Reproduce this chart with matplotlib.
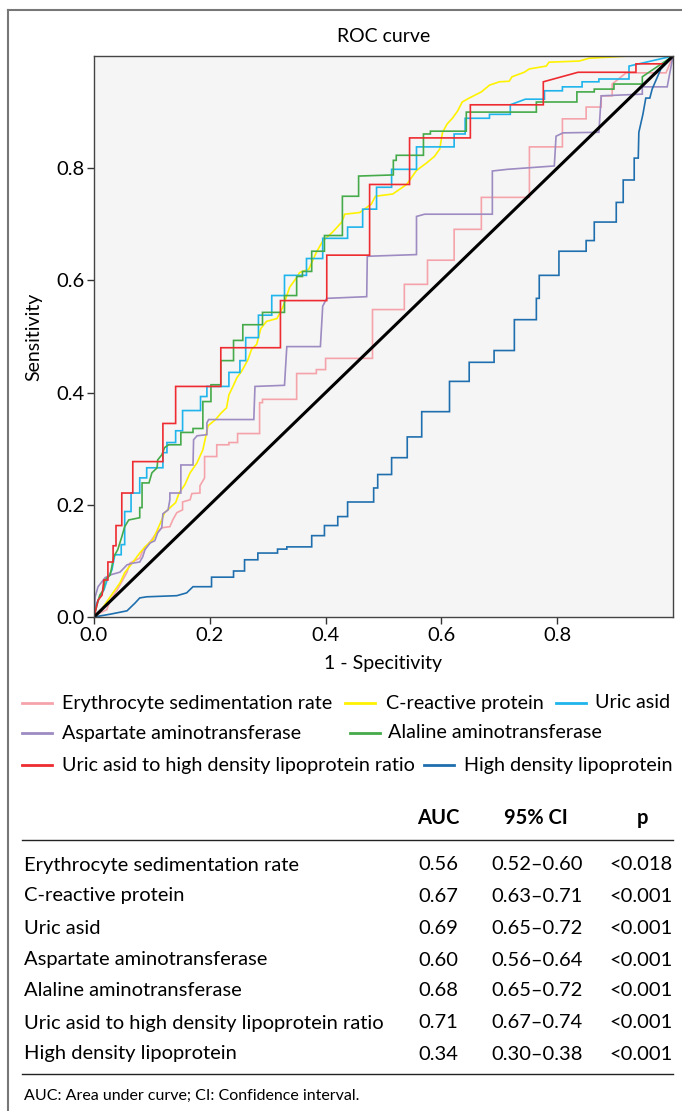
import matplotlib
matplotlib.use('Agg')
import matplotlib.pyplot as plt
from matplotlib.lines import Line2D

plt.rcParams['font.family'] = ['Lato', 'DejaVu Sans']

W, H = 682, 1111

# ROC curve points (1 - specificity, sensitivity)
esr_fpr = [0, 0.010, 0.022, 0.028, 0.040, 0.057, 0.062, 0.079, 0.084, 0.093, 0.100, 0.109, 0.117, 0.131, 0.136, 0.143,
           0.153, 0.153, 0.166, 0.169, 0.183, 0.183, 0.191, 0.191, 0.212, 0.212, 0.233, 0.233, 0.248, 0.248, 0.286,
           0.286, 0.291, 0.291, 0.350, 0.350, 0.384, 0.384, 0.400, 0.400, 0.481, 0.481, 0.536, 0.536, 0.576, 0.576,
           0.622, 0.622, 0.669, 0.669, 0.752, 0.752, 0.809, 0.809, 0.850, 0.850, 0.876, 0.876, 0.895, 0.895, 0.919,
           0.988, 1.0]
esr_tpr = [0, 0.007, 0.013, 0.030, 0.048, 0.080, 0.096, 0.105, 0.118, 0.129, 0.138, 0.152, 0.159, 0.161, 0.173, 0.186,
           0.191, 0.205, 0.209, 0.220, 0.221, 0.234, 0.248, 0.286, 0.286, 0.307, 0.307, 0.311, 0.311, 0.327, 0.327,
           0.382, 0.382, 0.388, 0.388, 0.434, 0.434, 0.441, 0.441, 0.461, 0.461, 0.548, 0.548, 0.593, 0.593, 0.636,
           0.636, 0.691, 0.691, 0.748, 0.748, 0.838, 0.838, 0.888, 0.888, 0.909, 0.909, 0.929, 0.929, 0.950, 0.970,
           0.970, 1.0]

crp_fpr = [0, 0.010, 0.028, 0.045, 0.053, 0.066, 0.079, 0.088, 0.102, 0.117, 0.122, 0.141, 0.147, 0.157, 0.166, 0.178,
           0.188, 0.197, 0.210, 0.219, 0.229, 0.233, 0.240, 0.247, 0.255, 0.266, 0.272, 0.281, 0.288, 0.298, 0.316,
           0.326, 0.338, 0.350, 0.355, 0.371, 0.384, 0.395, 0.412, 0.428, 0.433, 0.459, 0.479, 0.486, 0.516, 0.540,
           0.557, 0.574, 0.588, 0.597, 0.602, 0.610, 0.619, 0.628, 0.636, 0.648, 0.669, 0.683, 0.700, 0.717, 0.722,
           0.743, 0.752, 0.781, 0.786, 0.838, 0.855, 0.924, 1.0]
crp_tpr = [0, 0.009, 0.036, 0.061, 0.079, 0.096, 0.114, 0.125, 0.138, 0.173, 0.186, 0.204, 0.221, 0.236, 0.257, 0.275,
           0.298, 0.341, 0.352, 0.363, 0.373, 0.396, 0.411, 0.427, 0.438, 0.459, 0.477, 0.486, 0.514, 0.527, 0.532,
           0.552, 0.588, 0.605, 0.614, 0.620, 0.650, 0.670, 0.686, 0.704, 0.718, 0.721, 0.736, 0.750, 0.754, 0.771,
           0.796, 0.809, 0.821, 0.834, 0.864, 0.879, 0.889, 0.902, 0.918, 0.925, 0.936, 0.948, 0.954, 0.955, 0.963,
           0.971, 0.977, 0.982, 0.989, 0.991, 0.996, 1.0, 1.0]

ua_fpr = [0, 0.003, 0.010, 0.017, 0.024, 0.031, 0.036, 0.047, 0.047, 0.053, 0.053, 0.064, 0.064, 0.079, 0.079, 0.091,
          0.091, 0.119, 0.119, 0.126, 0.126, 0.141, 0.141, 0.153, 0.153, 0.184, 0.184, 0.195, 0.195, 0.233, 0.233,
          0.252, 0.252, 0.262, 0.262, 0.284, 0.284, 0.307, 0.307, 0.329, 0.329, 0.367, 0.367, 0.395, 0.395, 0.438,
          0.438, 0.464, 0.464, 0.488, 0.488, 0.514, 0.514, 0.557, 0.557, 0.622, 0.622, 0.641, 0.641, 0.683, 0.683,
          0.719, 0.719, 0.745, 0.778, 0.778, 0.809, 0.809, 0.843, 0.843, 0.872, 0.872, 0.924, 0.924, 1.0]
ua_tpr = [0, 0.021, 0.036, 0.048, 0.070, 0.084, 0.111, 0.111, 0.129, 0.129, 0.188, 0.188, 0.221, 0.221, 0.248, 0.248,
          0.266, 0.266, 0.293, 0.293, 0.311, 0.311, 0.332, 0.332, 0.368, 0.368, 0.393, 0.393, 0.411, 0.411, 0.436,
          0.436, 0.457, 0.457, 0.498, 0.498, 0.538, 0.538, 0.573, 0.573, 0.609, 0.609, 0.639, 0.639, 0.675, 0.675,
          0.695, 0.695, 0.727, 0.727, 0.766, 0.766, 0.798, 0.798, 0.838, 0.838, 0.861, 0.861, 0.889, 0.889, 0.896,
          0.896, 0.913, 0.923, 0.923, 0.938, 0.938, 0.945, 0.945, 0.954, 0.954, 0.959, 0.959, 0.982, 1.0]

ast_fpr = [0, 0.002, 0.007, 0.019, 0.028, 0.045, 0.057, 0.067, 0.079, 0.084, 0.088, 0.097, 0.105, 0.110, 0.117, 0.119,
           0.128, 0.131, 0.131, 0.150, 0.150, 0.171, 0.172, 0.178, 0.195, 0.195, 0.198, 0.276, 0.278, 0.329, 0.333,
           0.391, 0.395, 0.402, 0.471, 0.472, 0.557, 0.557, 0.571, 0.688, 0.688, 0.714, 0.795, 0.798, 0.810, 0.872,
           0.876, 0.947, 0.947, 0.990, 1.0]
ast_tpr = [0, 0.036, 0.054, 0.070, 0.075, 0.080, 0.093, 0.096, 0.098, 0.107, 0.120, 0.132, 0.136, 0.150, 0.159, 0.184,
           0.191, 0.209, 0.221, 0.221, 0.271, 0.271, 0.316, 0.323, 0.325, 0.346, 0.352, 0.352, 0.411, 0.413, 0.482,
           0.482, 0.554, 0.568, 0.571, 0.643, 0.646, 0.714, 0.718, 0.718, 0.795, 0.798, 0.804, 0.857, 0.863, 0.864,
           0.929, 0.932, 0.945, 0.945, 1.0]

alt_fpr = [0, 0.005, 0.010, 0.016, 0.019, 0.028, 0.034, 0.041, 0.048, 0.053, 0.060, 0.079, 0.079, 0.083, 0.083, 0.095,
           0.100, 0.109, 0.110, 0.117, 0.122, 0.129, 0.150, 0.150, 0.171, 0.171, 0.188, 0.188, 0.202, 0.202, 0.219,
           0.219, 0.241, 0.241, 0.257, 0.257, 0.291, 0.291, 0.329, 0.329, 0.350, 0.350, 0.360, 0.360, 0.376, 0.376,
           0.398, 0.398, 0.429, 0.429, 0.457, 0.457, 0.517, 0.517, 0.522, 0.522, 0.569, 0.569, 0.581, 0.581, 0.643,
           0.643, 0.764, 0.764, 0.834, 0.834, 0.864, 0.864, 0.898, 0.898, 0.947, 0.947, 1.0]
alt_tpr = [0, 0.021, 0.039, 0.048, 0.066, 0.075, 0.107, 0.120, 0.143, 0.161, 0.173, 0.177, 0.195, 0.195, 0.239, 0.239,
           0.257, 0.266, 0.280, 0.289, 0.302, 0.307, 0.307, 0.329, 0.329, 0.336, 0.336, 0.384, 0.384, 0.414, 0.414,
           0.457, 0.457, 0.493, 0.493, 0.521, 0.521, 0.543, 0.543, 0.573, 0.573, 0.607, 0.607, 0.616, 0.616, 0.652,
           0.652, 0.680, 0.680, 0.750, 0.750, 0.786, 0.788, 0.814, 0.814, 0.823, 0.823, 0.861, 0.861, 0.866, 0.866,
           0.900, 0.900, 0.918, 0.918, 0.936, 0.936, 0.941, 0.941, 0.950, 0.950, 0.963, 1.0]

ratio_fpr = [0, 0.007, 0.014, 0.017, 0.024, 0.024, 0.033, 0.033, 0.038, 0.038, 0.048, 0.048, 0.067, 0.067, 0.119,
             0.119, 0.141, 0.141, 0.219, 0.219, 0.322, 0.322, 0.402, 0.402, 0.476, 0.476, 0.545, 0.545, 0.650, 0.650,
             0.776, 0.776, 0.836, 0.936, 0.936, 0.986, 1.0]
ratio_tpr = [0, 0.030, 0.039, 0.066, 0.066, 0.098, 0.098, 0.127, 0.127, 0.163, 0.163, 0.221, 0.221, 0.277, 0.277,
             0.345, 0.345, 0.411, 0.411, 0.480, 0.480, 0.564, 0.564, 0.645, 0.645, 0.771, 0.771, 0.854, 0.854, 0.913,
             0.913, 0.954, 0.971, 0.971, 0.986, 0.986, 1.0]

hdl_fpr = [0, 0.028, 0.057, 0.071, 0.079, 0.091, 0.143, 0.160, 0.171, 0.203, 0.203, 0.241, 0.241, 0.260, 0.260, 0.283,
           0.283, 0.317, 0.317, 0.333, 0.333, 0.376, 0.376, 0.398, 0.398, 0.421, 0.421, 0.438, 0.438, 0.483, 0.483,
           0.490, 0.490, 0.514, 0.514, 0.541, 0.541, 0.566, 0.566, 0.614, 0.614, 0.648, 0.648, 0.691, 0.691, 0.726,
           0.726, 0.764, 0.764, 0.769, 0.769, 0.803, 0.803, 0.850, 0.850, 0.864, 0.864, 0.902, 0.902, 0.914, 0.914,
           0.933, 0.933, 0.940, 0.941, 0.948, 0.953, 0.960, 0.964, 0.979, 1.0]
hdl_tpr = [0, 0.005, 0.011, 0.025, 0.034, 0.036, 0.038, 0.043, 0.054, 0.054, 0.071, 0.071, 0.082, 0.082, 0.102, 0.102,
           0.114, 0.114, 0.121, 0.121, 0.125, 0.125, 0.145, 0.145, 0.163, 0.163, 0.179, 0.179, 0.205, 0.205, 0.230,
           0.230, 0.254, 0.254, 0.284, 0.284, 0.321, 0.321, 0.366, 0.366, 0.420, 0.420, 0.454, 0.454, 0.475, 0.475,
           0.530, 0.530, 0.568, 0.568, 0.609, 0.609, 0.652, 0.652, 0.671, 0.671, 0.704, 0.704, 0.739, 0.739, 0.779,
           0.779, 0.818, 0.818, 0.864, 0.896, 0.925, 0.925, 0.941, 0.977, 1.0]

names = ['Erythrocyte sedimentation rate', 'C-reactive protein', 'Uric asid', 'Aspartate aminotransferase',
         'Alaline aminotransferase', 'Uric asid to high density lipoprotein ratio', 'High density lipoprotein']
colors = ['#f5a3aa', '#fff200', '#1fb4ec', '#9d8bc2', '#45aa4a', '#ee2b30', '#1f6fae']
curves = [(esr_fpr, esr_tpr), (crp_fpr, crp_tpr), (ua_fpr, ua_tpr), (ast_fpr, ast_tpr),
          (alt_fpr, alt_tpr), (ratio_fpr, ratio_tpr), (hdl_fpr, hdl_tpr)]

auc = ['0.56', '0.67', '0.69', '0.60', '0.68', '0.71', '0.34']
ci = ['0.52\u20130.60', '0.63\u20130.71', '0.65\u20130.72', '0.56\u20130.64', '0.65\u20130.72', '0.67\u20130.74',
      '0.30\u20130.38']
pval = ['<0.018', '<0.001', '<0.001', '<0.001', '<0.001', '<0.001', '<0.001']

ticks = [0.0, 0.2, 0.4, 0.6, 0.8]


def fx(px):
    return px / W


def fy(py):
    return 1 - py / H


fig = plt.figure(figsize=(W / 100, H / 100), dpi=100)
ax = fig.add_axes([fx(94), fy(617), (673 - 94) / W, (617 - 56) / H])
ax.set_facecolor('#f5f5f5')

for (xs, ys), c in zip(curves, colors):
    ax.plot(xs, ys, color=c, lw=1.2, solid_joinstyle='miter')
ax.plot([0, 1], [0, 1], color='black', lw=2.2)

ax.set_xlim(0, 1)
ax.set_ylim(0, 1)
ax.set_xticks(ticks)
ax.set_yticks(ticks)
ax.set_xticklabels(['%.1f' % t for t in ticks])
ax.set_yticklabels(['%.1f' % t for t in ticks])
ax.tick_params(direction='out', length=5, width=1, labelsize=14.5, color='#333333', pad=2)
for s in ax.spines.values():
    s.set_color('#444444')
    s.set_linewidth(1)
ax.set_title('ROC curve', fontsize=14, pad=10)
ax.set_xlabel('1 - Specitivity', fontsize=14, labelpad=8)
ax.set_ylabel('Sensitivity', fontsize=14, labelpad=10)

# figure border (top and left)
fig.add_artist(Line2D([fx(8), 1], [fy(10), fy(10)], color='#777777', lw=1.5))
fig.add_artist(Line2D([fx(8), fx(8)], [fy(10), 0], color='#777777', lw=1.5))

# legend laid out as in the original (row y, handle x start, text x start)
leg_pos = [(703, 22, 62), (703, 345, 386), (703, 556, 595),
           (733, 22, 62), (733, 350, 388),
           (765, 22, 62), (765, 424, 464)]
for (py, hx, tx), name, c in zip(leg_pos, names, colors):
    fig.add_artist(Line2D([fx(hx), fx(hx + 30)], [fy(py), fy(py)], color=c, lw=2))
    fig.text(fx(tx), fy(py), name, fontsize=14.2, va='center', ha='left')

# table
fs = 14.5
fig.text(fx(438), fy(818), 'AUC', fontsize=fs, fontweight='bold', ha='center', va='center')
fig.text(fx(536), fy(818), '95% CI', fontsize=fs, fontweight='bold', ha='center', va='center')
fig.text(fx(642), fy(818), 'p', fontsize=fs, fontweight='bold', ha='center', va='center')
fig.add_artist(Line2D([fx(22), fx(673)], [fy(840), fy(840)], color='#222222', lw=1))
row_y = [865, 896, 928, 960, 991, 1023, 1054]
for py, name, a, c, p in zip(row_y, names, auc, ci, pval):
    fig.text(fx(24), fy(py), name, fontsize=fs, ha='left', va='center')
    fig.text(fx(438), fy(py), a, fontsize=fs, ha='center', va='center')
    fig.text(fx(537), fy(py), c, fontsize=fs, ha='center', va='center')
    fig.text(fx(673), fy(py), p, fontsize=fs, ha='right', va='center')
fig.add_artist(Line2D([fx(22), fx(673)], [fy(1074), fy(1074)], color='#222222', lw=1))
fig.text(fx(24), fy(1096), 'AUC: Area under curve; CI: Confidence interval.', fontsize=11.5, ha='left', va='center')

fig.savefig('out.png', dpi=100)
